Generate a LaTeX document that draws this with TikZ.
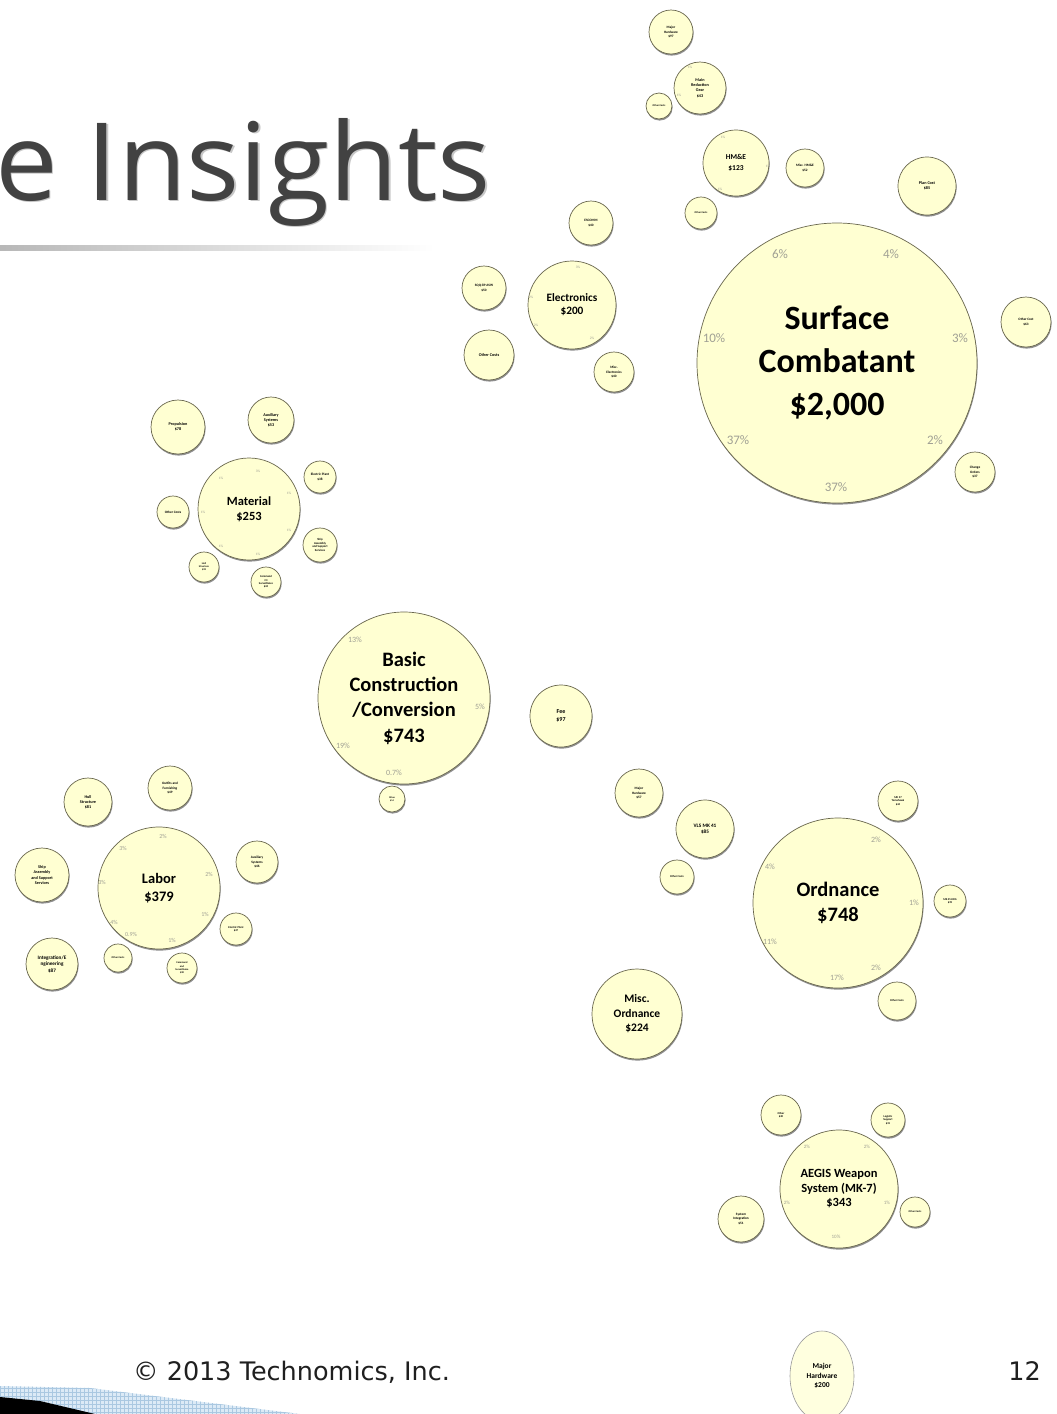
\documentclass[tikz,border=0pt]{standalone}
\usepackage{fontspec}
\setmainfont{Carlito}
\newfontfamily\titlefont{Open Sans}
\newfontfamily\footfont{DejaVu Sans}
\usetikzlibrary{shadows,shapes.geometric}
\definecolor{bfill}{RGB}{255,255,210}
\definecolor{bord}{RGB}{105,103,78}
\definecolor{pctc}{RGB}{160,160,148}
\definecolor{titlec}{RGB}{66,66,66}
\definecolor{gridbg}{RGB}{220,234,246}
\definecolor{gridln}{RGB}{170,200,225}
\newcommand\fs[2]{\fontsize{#1}{#2}\selectfont}
\tikzset{
  bub/.style={circle, draw=bord, fill=bfill, line width=0.7pt, inner sep=0pt,
    align=center, text=black, minimum size=#1pt,
    drop shadow={shadow xshift=0.6pt, shadow yshift=-1.6pt, fill=black!80, opacity=0.55}},
  tiny/.style={font=\fs{3.4}{4.2}\bfseries},
  small/.style={font=\fs{4.2}{5.2}\bfseries},
  pct/.style={text=pctc, inner sep=0pt},
  pctS/.style={pct, font=\fs{3.5}{3.5}},
  pctM/.style={pct, font=\fs{6}{6}},
  pctL/.style={pct, font=\fs{8}{8}},
}
\begin{document}
\begin{tikzpicture}[x=1pt,y=-1pt]
\useasboundingbox (0,0) rectangle (1057,1414);
\fill[white] (0,0) rectangle (1057,1414);

% title
\node[anchor=base west, inner sep=0pt, font=\titlefont\fs{108}{108}, text=black!22] (titlesh) at (-3.5,201.5) {\scalebox{1.035}[1]{e Insights}};
\node[anchor=base west, inner sep=0pt, font=\titlefont\fs{108}{108}, text=titlec] (title) at (-5,200) {\scalebox{1.035}[1]{e Insights}};
\shade[left color=black!28, right color=white] (0,245) rectangle (435,250);

% top cluster
\node[bub=44, tiny] (mh1) at (671,32) {Major\\Hardware\\\$97};
\node[bub=52, small] (mrg) at (700,88) {Main\\Reduction\\Gear\\\$43};
\node[bub=26, font=\fs{2.6}{3}\bfseries] (oc1) at (659,106) {Other Costs};
\node[bub=66, font=\fs{7.5}{11}\bfseries] (hme) at (736,163) {HM\&E\\\$123};
\node[bub=38, tiny] (mhme) at (805,168) {Misc. HM\&E\\\$52};
\node[bub=32, font=\fs{2.6}{3}\bfseries] (oc2) at (701,213) {Other Costs};
\node[bub=58, small] (plan) at (927,186) {Plan Cost\\\$85};
\node[pctS] (ph1) at (690,67) {1\%};
\node[pctS] (ph2) at (679,95) {1\%};
\node[pctS] (ph3) at (723,137) {1\%};
\node[pctS] (ph4) at (768,166) {1\%};
\node[pctS] (ph5) at (720,189) {1\%};

% electronics
\node[bub=44, tiny] (escomm) at (591,223) {ESCOMM\\\$40};
\node[bub=44, tiny] (sqq) at (484,288) {SQQ-89 ASW\\\$50};
\node[bub=88, font=\fs{11.3}{13}\bfseries] (elec) at (572,305) {Electronics\\\$200};
\node[bub=50, small] (oc3) at (489,355) {Other Costs};
\node[bub=40, tiny] (melec) at (614,372) {Misc.\\Electronics\\\$40};
\node[pctS] (pe1) at (578,267) {3\%};
\node[pctS] (pe2) at (531,297) {2\%};
\node[pctS] (pe3) at (536,325) {2\%};
\node[pctS] (pe4) at (592,338) {2\%};

% surface combatant
\node[bub=280, font=\fs{34}{43}\bfseries] (sc) at (837,363) {Surface\\Combatant\\\$2,000};
\node[pct, font=\fs{13}{13}] (ps1) at (780,254) {6\%};
\node[pct, font=\fs{13}{13}] (ps2) at (891,254) {4\%};
\node[pct, font=\fs{13}{13}] (ps3) at (714,338) {10\%};
\node[pct, font=\fs{13}{13}] (ps4) at (960,338) {3\%};
\node[pct, font=\fs{13}{13}] (ps5) at (738,440) {37\%};
\node[pct, font=\fs{13}{13}] (ps6) at (935,440) {2\%};
\node[pct, font=\fs{13}{13}] (ps7) at (836,487) {37\%};
\node[bub=50, tiny] (occ) at (1026,322) {Other Cost\\\$63};
\node[bub=40, tiny] (co) at (975,472) {Change\\Orders\\\$37};

% material
\node[bub=54, small] (prop) at (178,427) {Propulsion\\\$78};
\node[bub=46, small] (aux1) at (271,420) {Auxiliary\\Systems\\\$53};
\node[bub=102, font=\fs{12.5}{15}\bfseries] (mat) at (249,509) {Material\\\$253};
\node[bub=32, tiny] (ep1) at (320,477) {Electric Plant\\\$38};
\node[bub=32, tiny] (oc4) at (173,512) {Other Costs};
\node[bub=34, font=\fs{3}{3.6}\bfseries] (sa1) at (320,545) {Ship\\Assembly\\and Support\\Services};
\node[bub=30, font=\fs{2.6}{3.2}\bfseries] (hull1) at (204,567) {Hull\\Structure\\\$33};
\node[bub=30, font=\fs{2.8}{3.4}\bfseries] (cmd1) at (266,582) {Command\\C3\\Surveillance\\\$24};
\node[pctS] (pm1) at (221,478) {1\%};
\node[pctS] (pm2) at (258,471) {3\%};
\node[pctS] (pm3) at (289,493) {1\%};
\node[pctS] (pm4) at (203,512) {1\%};
\node[pctS] (pm5) at (289,530) {1\%};
\node[pctS] (pm6) at (221,546) {1\%};
\node[pctS] (pm7) at (258,554) {1\%};

% basic construction
\node[bub=172, font=\fs{20.5}{25.3}\bfseries] (bc) at (404,698) {Basic\\Construction\\/Conversion\\\$743};
\node[pctL] (pb1) at (355,640) {13\%};
\node[pctL] (pb2) at (480,707) {5\%};
\node[pctL] (pb3) at (343,746) {19\%};
\node[pctL] (pb4) at (394,773) {0.7\%};
\node[bub=26, font=\fs{2.4}{3}\bfseries] (sm1) at (392,799) {Other\\\$14};
\node[bub=62, font=\fs{6}{7.5}\bfseries] (fee) at (561,716) {Fee\\\$97};

% labor
\node[bub=48, small] (hull2) at (88,802) {Hull\\Structure\\\$81};
\node[bub=44, tiny] (outf) at (170,788) {Outfits and\\Furnishing\\\$49};
\node[bub=122, font=\fs{14.5}{18}\bfseries] (lab) at (159,888) {Labor\\\$379};
\node[bub=42, tiny] (aux2) at (257,862) {Auxiliary\\Systems\\\$46};
\node[bub=54, small] (sa2) at (42,875) {Ship\\Assembly\\and Support\\Services};
\node[bub=32, font=\fs{2.8}{3.4}\bfseries] (ep2) at (236,929) {Electric Plant\\\$47};
\node[bub=52, font=\fs{5.2}{6.5}\bfseries] (integ) at (52,964) {Integration/E\\ngineering\\\$87};
\node[bub=28, font=\fs{2.6}{3}\bfseries] (oc5) at (118,958) {Other Costs};
\node[bub=30, font=\fs{2.6}{3.2}\bfseries] (cmd2) at (182,968) {Command\\and\\Surveillance\\\$30};
\node[pctM] (pl1) at (163,836) {2\%};
\node[pctM] (pl2) at (123,848) {3\%};
\node[pctM] (pl3) at (209,874) {2\%};
\node[pctM] (pl4) at (102,882) {3\%};
\node[pctM] (pl5) at (205,914) {1\%};
\node[pctM] (pl6) at (114,922) {4\%};
\node[pctM] (pl7) at (131,934) {0.9\%};
\node[pctM] (pl8) at (172,940) {1\%};

% ordnance
\node[bub=48, tiny] (mh2) at (639,793) {Major\\Hardware\\\$57};
\node[bub=58, font=\fs{5.2}{6.5}\bfseries] (vls) at (705,829) {VLS MK 41\\\$85};
\node[bub=34, font=\fs{2.8}{3.4}\bfseries] (oc6) at (677,877) {Other Costs};
\node[bub=170, font=\fs{20.5}{25}\bfseries] (ord) at (838,903) {Ordnance\\\$748};
\node[bub=40, font=\fs{2.8}{3.4}\bfseries] (mk37) at (898,801) {MK 37\\Tomahawk\\\$44};
\node[bub=32, font=\fs{2.8}{3.4}\bfseries] (mk45) at (950,901) {MK 45 LWG\\\$39};
\node[bub=38, font=\fs{2.8}{3.4}\bfseries] (oc7) at (897,1001) {Other Costs};
\node[bub=90, font=\fs{11.5}{14.5}\bfseries] (mord) at (637,1014) {Misc.\\Ordnance\\\$224};
\node[pctL] (po1) at (876,840) {2\%};
\node[pctL] (po2) at (770,867) {4\%};
\node[pctL] (po3) at (914,903) {1\%};
\node[pctL] (po4) at (770,942) {11\%};
\node[pctL] (po5) at (876,968) {2\%};
\node[pctL] (po6) at (837,978) {17\%};

% aegis
\node[bub=40, font=\fs{2.8}{3.4}\bfseries] (oth) at (781,1115) {Other\\\$40};
\node[bub=34, font=\fs{2.8}{3.4}\bfseries] (logi) at (888,1120) {Logistic\\Support\\\$31};
\node[bub=118, font=\fs{12.5}{14.5}\bfseries] (aeg) at (839,1189) {AEGIS Weapon\\System (MK-7)\\\$343};
\node[bub=46, font=\fs{3.4}{4.4}\bfseries] (sysi) at (741,1219) {System\\Integration\\\$51};
\node[bub=30, font=\fs{2.6}{3}\bfseries] (oc8) at (915,1212) {Other Costs};
\node[pct, font=\fs{5}{5}] (pa1) at (807,1147) {2\%};
\node[pct, font=\fs{5}{5}] (pa2) at (867,1147) {2\%};
\node[pct, font=\fs{5}{5}] (pa3) at (787,1203) {2\%};
\node[pct, font=\fs{5}{5}] (pa4) at (887,1203) {1\%};
\node[pct, font=\fs{5}{5}] (pa5) at (836,1237) {10\%};

% bottom decoration
\begin{scope}
  \clip (0,1386) -- (90,1388) -- (300,1414) -- (0,1414) -- cycle;
  \fill[gridbg] (0,1380) rectangle (300,1414);
  \draw[gridln, line width=0.5pt] (0,1380) grid[step=4pt] (300,1414);
\end{scope}
\fill[black] (0,1397) -- (40,1401) -- (95,1414) -- (0,1414) -- cycle;

% footer
\node[anchor=base west, inner sep=0pt, font=\footfont\fs{25.5}{25.5}, text=black!88] (foot) at (133,1380) {© 2013 Technomics, Inc.};
\node[anchor=base east, inner sep=0pt, font=\footfont\fs{25.5}{25.5}, text=black!88] (pg) at (1041,1380) {12};
\node[ellipse, draw=black!40, fill=bfill!70, line width=0.6pt, inner sep=0pt, minimum width=64pt, minimum height=90pt, align=center, font=\fs{7.5}{9.5}\bfseries] (mh3) at (822,1376) {Major\\Hardware\\\$200};
\end{tikzpicture}
\end{document}
